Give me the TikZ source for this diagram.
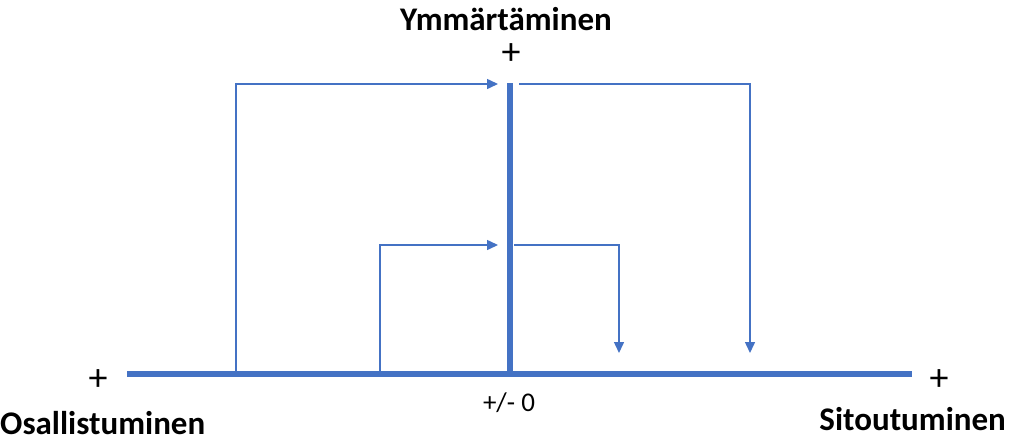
\documentclass[tikz,border=0pt]{standalone}
\usepackage{fontspec}
\setmainfont{Carlito}
\usetikzlibrary{arrows.meta}
\definecolor{axblue}{HTML}{4472C4}
\tikzset{
  axis/.style={draw=axblue, line width=6pt},
  flow/.style={draw=axblue, line width=1.5pt, -{Triangle[length=11pt,width=10pt]}},
  lbl/.style={font=\fontsize{33}{36}\selectfont\bfseries, anchor=base, inner sep=0pt},
  sign/.style={font=\fontsize{27}{30}\selectfont, anchor=base, inner sep=0pt},
  plus/.style={font=\fontsize{38}{40}\selectfont, anchor=base, inner sep=0pt, text height=22pt, text depth=0pt}
}
\begin{document}
\begin{tikzpicture}[x=1pt,y=-1pt]
\useasboundingbox (0,0) rectangle (1011,442);
% axes
\coordinate (hl) at (127,374);
\coordinate (hr) at (912,374);
\coordinate (vt) at (510,83);
\coordinate (vb) at (510,374);
\draw[axis] (hl) -- (hr);
\draw[axis] (vt) -- (vb);
% outer loop
\coordinate (o1) at (236,372);
\coordinate (o2) at (236,84);
\coordinate (o3) at (498,84);
\coordinate (o4) at (519,84);
\coordinate (o5) at (750,84);
\coordinate (o6) at (750,353);
\draw[flow] (o1) -- (o2) -- (o3);
\draw[flow] (o4) -- (o5) -- (o6);
% inner loop
\coordinate (i1) at (380,372);
\coordinate (i2) at (380,245);
\coordinate (i3) at (498,245);
\coordinate (i4) at (514,245);
\coordinate (i5) at (619,245);
\coordinate (i6) at (619,353);
\draw[flow] (i1) -- (i2) -- (i3);
\draw[flow] (i4) -- (i5) -- (i6);
% labels
\node[lbl] (top) at (506,30) {Ymmärtäminen};
\node[plus] (ptop) at (511,64) {+};
\node[plus] (pleft) at (98,390) {+};
\node[plus] (pright) at (939,390) {+};
\node[sign] (zero) at (509,411) {+/- 0};
\node[lbl, anchor=base west] (left) at (0,434) {Osallistuminen};
\node[lbl, anchor=base east] (right) at (1006,430) {Sitoutuminen};
\end{tikzpicture}
\end{document}
